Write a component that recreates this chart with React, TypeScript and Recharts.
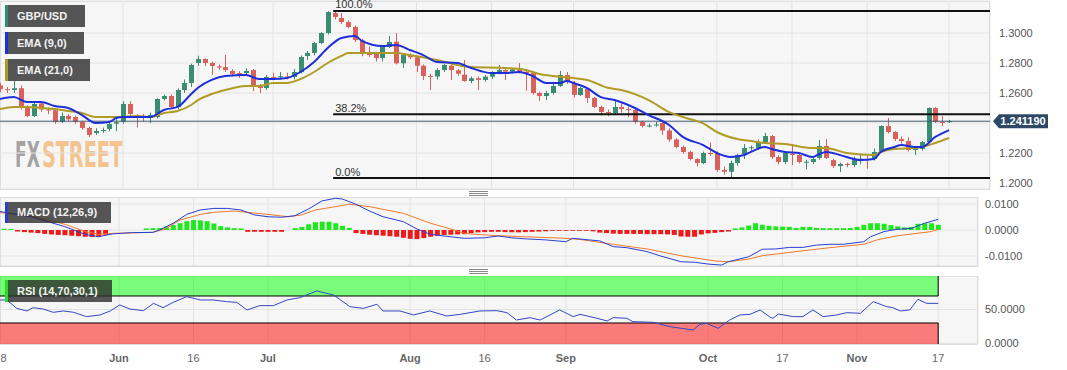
import React from 'react';
import { ComposedChart, Bar, Line, XAxis, YAxis, CartesianGrid, ReferenceLine, ReferenceArea, Cell } from 'recharts';

const FONT = '"Liberation Sans", Arial, sans-serif';

// ---- GBP/USD daily candles (trading-day index 0 = May 8 ... 139 = Nov 17) ----
const opens = [
  1.2650, 1.2625, 1.2620, 1.2632, 1.2505, 1.2446, 1.2530, 1.2490, 1.2485, 1.2407,
  1.2447, 1.2440, 1.2407, 1.2367, 1.2333, 1.2347, 1.2360, 1.2395, 1.2407, 1.2527,
  1.2450, 1.2440, 1.2433, 1.2440, 1.2560, 1.2580, 1.2507, 1.2620, 1.2667, 1.2800,
  1.2827, 1.2800, 1.2778, 1.2773, 1.2747, 1.2733, 1.2733, 1.2753, 1.2647, 1.2633,
  1.2707, 1.2705, 1.2710, 1.2707, 1.2740, 1.2847, 1.2867, 1.2933, 1.3000, 1.3133,
  1.3100, 1.3073, 1.3040, 1.2950, 1.2867, 1.2867, 1.2833, 1.2907, 1.2942, 1.2798,
  1.2853, 1.2838, 1.2782, 1.2713, 1.2710, 1.2753, 1.2782, 1.2751, 1.2722, 1.2680,
  1.2698, 1.2687, 1.2709, 1.2733, 1.2753, 1.2742, 1.2758, 1.2742, 1.2733, 1.2600,
  1.2580, 1.2600, 1.2647, 1.2720, 1.2667, 1.2587, 1.2627, 1.2567, 1.2507, 1.2473,
  1.2467, 1.2507, 1.2493, 1.2487, 1.2407, 1.2380, 1.2385, 1.2400, 1.2350, 1.2290,
  1.2240, 1.2207, 1.2160, 1.2133, 1.2200, 1.2200, 1.2087, 1.2075, 1.2133, 1.2193,
  1.2235, 1.2233, 1.2273, 1.2313, 1.2173, 1.2140, 1.2195, 1.2187, 1.2140, 1.2140,
  1.2167, 1.2247, 1.2153, 1.2113, 1.2127, 1.2120, 1.2160, 1.2160, 1.2160, 1.2207,
  1.2380, 1.2340, 1.2293, 1.2280, 1.2220, 1.2227, 1.2273, 1.2500, 1.2407, 1.2407,
];
const highs = [
  1.2668, 1.2640, 1.2680, 1.2650, 1.2520, 1.2545, 1.2545, 1.2505, 1.2495, 1.2470,
  1.2460, 1.2450, 1.2415, 1.2375, 1.2365, 1.2370, 1.2415, 1.2425, 1.2545, 1.2545,
  1.2460, 1.2460, 1.2470, 1.2565, 1.2590, 1.2590, 1.2630, 1.2690, 1.2795, 1.2848,
  1.2830, 1.2810, 1.2790, 1.2853, 1.2760, 1.2745, 1.2765, 1.2760, 1.2660, 1.2720,
  1.2735, 1.2740, 1.2735, 1.2760, 1.2850, 1.2880, 1.2940, 1.3005, 1.3145, 1.3147,
  1.3133, 1.3085, 1.3050, 1.2960, 1.2910, 1.2875, 1.2920, 1.2980, 1.3000, 1.2865,
  1.2865, 1.2850, 1.2790, 1.2728, 1.2765, 1.2795, 1.2790, 1.2760, 1.2820, 1.2710,
  1.2710, 1.2720, 1.2745, 1.2787, 1.2760, 1.2765, 1.2800, 1.2750, 1.2740, 1.2610,
  1.2615, 1.2660, 1.2747, 1.2740, 1.2680, 1.2640, 1.2635, 1.2575, 1.2515, 1.2490,
  1.2547, 1.2530, 1.2510, 1.2495, 1.2415, 1.2395, 1.2410, 1.2410, 1.2365, 1.2300,
  1.2250, 1.2215, 1.2165, 1.2210, 1.2270, 1.2210, 1.2110, 1.2150, 1.2195, 1.2260,
  1.2250, 1.2290, 1.2335, 1.2320, 1.2185, 1.2210, 1.2260, 1.2200, 1.2155, 1.2180,
  1.2287, 1.2293, 1.2160, 1.2135, 1.2135, 1.2175, 1.2195, 1.2180, 1.2230, 1.2385,
  1.2433, 1.2345, 1.2310, 1.2305, 1.2240, 1.2280, 1.2505, 1.2505, 1.2447, 1.2420,
];
const lows = [
  1.2606, 1.2600, 1.2600, 1.2490, 1.2440, 1.2440, 1.2475, 1.2460, 1.2395, 1.2400,
  1.2410, 1.2395, 1.2355, 1.2307, 1.2320, 1.2335, 1.2345, 1.2345, 1.2395, 1.2440,
  1.2370, 1.2410, 1.2400, 1.2430, 1.2550, 1.2495, 1.2490, 1.2600, 1.2640, 1.2780,
  1.2780, 1.2720, 1.2755, 1.2740, 1.2710, 1.2700, 1.2720, 1.2613, 1.2600, 1.2620,
  1.2685, 1.2690, 1.2690, 1.2690, 1.2730, 1.2820, 1.2850, 1.2925, 1.2990, 1.3090,
  1.3060, 1.3030, 1.2940, 1.2845, 1.2840, 1.2810, 1.2810, 1.2900, 1.2790, 1.2767,
  1.2825, 1.2740, 1.2687, 1.2620, 1.2690, 1.2740, 1.2687, 1.2715, 1.2675, 1.2665,
  1.2620, 1.2675, 1.2695, 1.2725, 1.2687, 1.2730, 1.2730, 1.2615, 1.2590, 1.2547,
  1.2553, 1.2590, 1.2640, 1.2660, 1.2570, 1.2580, 1.2533, 1.2500, 1.2450, 1.2445,
  1.2455, 1.2470, 1.2440, 1.2395, 1.2370, 1.2370, 1.2375, 1.2320, 1.2275, 1.2230,
  1.2195, 1.2150, 1.2110, 1.2125, 1.2180, 1.2075, 1.2055, 1.2037, 1.2115, 1.2160,
  1.2210, 1.2220, 1.2265, 1.2160, 1.2123, 1.2125, 1.2120, 1.2130, 1.2090, 1.2125,
  1.2155, 1.2160, 1.2100, 1.2073, 1.2105, 1.2105, 1.2125, 1.2095, 1.2150, 1.2200,
  1.2330, 1.2280, 1.2263, 1.2210, 1.2187, 1.2215, 1.2267, 1.2400, 1.2380, 1.2400,
];
const closes = [
  1.2625, 1.2620, 1.2632, 1.2505, 1.2446, 1.2527, 1.2490, 1.2485, 1.2407, 1.2447,
  1.2425, 1.2407, 1.2367, 1.2320, 1.2347, 1.2353, 1.2393, 1.2405, 1.2527, 1.2460,
  1.2440, 1.2437, 1.2453, 1.2560, 1.2580, 1.2507, 1.2620, 1.2667, 1.2787, 1.2827,
  1.2800, 1.2780, 1.2770, 1.2753, 1.2727, 1.2720, 1.2747, 1.2647, 1.2633, 1.2707,
  1.2700, 1.2712, 1.2707, 1.2740, 1.2840, 1.2867, 1.2933, 1.3000, 1.3140, 1.3107,
  1.3073, 1.3040, 1.2953, 1.2870, 1.2853, 1.2833, 1.2907, 1.2940, 1.2798, 1.2853,
  1.2838, 1.2782, 1.2713, 1.2710, 1.2753, 1.2787, 1.2753, 1.2729, 1.2680, 1.2698,
  1.2687, 1.2709, 1.2731, 1.2753, 1.2742, 1.2758, 1.2742, 1.2733, 1.2600, 1.2580,
  1.2600, 1.2647, 1.2720, 1.2673, 1.2587, 1.2633, 1.2567, 1.2507, 1.2473, 1.2467,
  1.2507, 1.2493, 1.2490, 1.2407, 1.2380, 1.2383, 1.2390, 1.2350, 1.2290, 1.2240,
  1.2207, 1.2160, 1.2133, 1.2200, 1.2193, 1.2087, 1.2075, 1.2133, 1.2187, 1.2233,
  1.2238, 1.2273, 1.2313, 1.2173, 1.2140, 1.2200, 1.2187, 1.2140, 1.2142, 1.2160,
  1.2247, 1.2167, 1.2113, 1.2127, 1.2120, 1.2160, 1.2162, 1.2158, 1.2207, 1.2380,
  1.2340, 1.2293, 1.2280, 1.2220, 1.2233, 1.2273, 1.2500, 1.2407, 1.2400, 1.2412,
];

// ---- EMA lines ----
const ema9Days = [0, 2, 4, 6, 8, 10, 12, 14, 16, 17, 18, 20, 22, 24, 26, 28, 29, 31, 33, 36, 38, 40, 42, 44, 46, 48, 50, 52, 53, 56, 58, 60, 62, 64, 67, 69, 72, 74, 76, 78, 80, 82, 83, 84, 86, 88, 90, 93, 95, 98, 100, 103, 105, 107, 109, 110, 112, 113, 115, 117, 119, 120, 121, 124, 126, 128, 129, 131, 132, 134, 135, 137, 139];
const ema9Vals = [1.2560, 1.2573, 1.2540, 1.2540, 1.2513, 1.2500, 1.2453, 1.2400, 1.2407, 1.2433, 1.2440, 1.2440, 1.2440, 1.2487, 1.2507, 1.2593, 1.2635, 1.2687, 1.2713, 1.2720, 1.2693, 1.2693, 1.2700, 1.2740, 1.2807, 1.2900, 1.2967, 1.2980, 1.2947, 1.2913, 1.2920, 1.2887, 1.2853, 1.2807, 1.2800, 1.2767, 1.2733, 1.2733, 1.2740, 1.2713, 1.2667, 1.2667, 1.2680, 1.2667, 1.2632, 1.2573, 1.2553, 1.2500, 1.2453, 1.2387, 1.2307, 1.2253, 1.2200, 1.2173, 1.2187, 1.2207, 1.2240, 1.2227, 1.2207, 1.2200, 1.2173, 1.2193, 1.2207, 1.2173, 1.2153, 1.2160, 1.2207, 1.2240, 1.2253, 1.2240, 1.2240, 1.2307, 1.2353];
const ema21Days = [0, 2, 4, 6, 8, 10, 12, 14, 17, 20, 22, 24, 26, 28, 29, 31, 33, 36, 38, 40, 42, 44, 46, 48, 50, 51, 53, 56, 58, 60, 64, 69, 74, 77, 79, 81, 84, 86, 89, 91, 95, 98, 101, 103, 105, 108, 110, 112, 115, 119, 121, 124, 128, 129, 131, 134, 135, 137, 139];
const ema21Vals = [1.2493, 1.2507, 1.2507, 1.2500, 1.2493, 1.2480, 1.2467, 1.2440, 1.2440, 1.2447, 1.2440, 1.2467, 1.2480, 1.2520, 1.2553, 1.2593, 1.2620, 1.2647, 1.2647, 1.2667, 1.2667, 1.2693, 1.2740, 1.2800, 1.2847, 1.2867, 1.2867, 1.2867, 1.2867, 1.2853, 1.2820, 1.2773, 1.2767, 1.2753, 1.2727, 1.2713, 1.2700, 1.2687, 1.2635, 1.2620, 1.2553, 1.2473, 1.2427, 1.2397, 1.2340, 1.2293, 1.2280, 1.2267, 1.2260, 1.2233, 1.2233, 1.2200, 1.2187, 1.2207, 1.2227, 1.2233, 1.2240, 1.2267, 1.2300];

// ---- MACD (12,26,9) ----
const macdDays = [0, 5, 10, 13, 15, 17, 20, 23, 24, 26, 28, 30, 32, 34, 36, 38, 40, 42, 44, 46, 48, 50, 51, 53, 55, 57, 60, 62, 64, 67, 69, 72, 74, 76, 78, 81, 84, 85, 89, 91, 93, 96, 98, 101, 103, 105, 107, 108, 111, 113, 115, 117, 119, 121, 123, 125, 128, 129, 131, 133, 135, 137, 139];
const macdVals = [0.0073, 0.0051, 0.0013, -0.0017, -0.0026, -0.0015, -0.0010, -0.0009, 0.0000, 0.0026, 0.0060, 0.0077, 0.0083, 0.0083, 0.0077, 0.0058, 0.0051, 0.0049, 0.0055, 0.0081, 0.0112, 0.0122, 0.0119, 0.0099, 0.0073, 0.0051, 0.0032, 0.0004, -0.0017, -0.0026, -0.0032, -0.0030, -0.0023, -0.0030, -0.0034, -0.0038, -0.0045, -0.0032, -0.0042, -0.0064, -0.0068, -0.0083, -0.0100, -0.0122, -0.0124, -0.0131, -0.0135, -0.0122, -0.0103, -0.0074, -0.0073, -0.0067, -0.0067, -0.0058, -0.0055, -0.0055, -0.0045, -0.0026, -0.0006, 0.0003, 0.0006, 0.0026, 0.0041];
const signalDays = [0, 5, 10, 13, 15, 17, 23, 25, 27, 30, 32, 35, 37, 40, 43, 45, 47, 50, 52, 55, 60, 64, 67, 69, 72, 74, 78, 84, 86, 91, 96, 101, 106, 108, 111, 113, 118, 123, 128, 130, 133, 138, 139];
const signalVals = [0.0068, 0.0055, 0.0022, -0.0006, -0.0017, -0.0013, -0.0009, 0.0006, 0.0038, 0.0060, 0.0068, 0.0073, 0.0068, 0.0060, 0.0051, 0.0058, 0.0077, 0.0090, 0.0099, 0.0090, 0.0064, 0.0026, 0.0004, -0.0013, -0.0019, -0.0022, -0.0026, -0.0032, -0.0036, -0.0055, -0.0073, -0.0099, -0.0119, -0.0122, -0.0112, -0.0099, -0.0083, -0.0068, -0.0055, -0.0038, -0.0022, -0.0006, 0.0003];
const histVals = [
  0.0005, 0.0005, 0.0004, -0.0006, -0.0008, -0.0010, -0.0012, -0.0015, -0.0017, -0.0019,
  -0.0020, -0.0022, -0.0024, -0.0026, -0.0027, -0.0025, -0.0018, 0, 0, 0,
  0, 0, 0.0006, 0.0007, 0.0008, 0.0013, 0.0019, 0.0026, 0.0034, 0.0038,
  0.0037, 0.0034, 0.0025, 0.0015, 0.0010, 0.0007, 0.0006, -0.0007, -0.0007, -0.0007,
  -0.0007, -0.0007, -0.0007, 0, 0.0007, 0.0012, 0.0022, 0.0030, 0.0032, 0.0032,
  0.0026, 0.0016, 0.0008, -0.0012, -0.0015, -0.0018, -0.0020, -0.0022, -0.0024, -0.0026,
  -0.0030, -0.0034, -0.0035, -0.0031, -0.0026, -0.0022, -0.0019, -0.0018, -0.0017, -0.0016,
  -0.0012, -0.0009, -0.0008, -0.0007, -0.0007, -0.0008, -0.0009, -0.0009, -0.0008, -0.0007,
  -0.0006, -0.0005, -0.0003, -0.0003, -0.0003, -0.0003, -0.0003, -0.0003, -0.0005, -0.0010,
  -0.0012, -0.0014, -0.0015, -0.0015, -0.0015, -0.0015, -0.0016, -0.0016, -0.0016, -0.0017,
  -0.0019, -0.0025, -0.0026, -0.0026, -0.0017, -0.0013, -0.0011, -0.0008, -0.0006, 0.0006,
  0.0010, 0.0017, 0.0026, 0.0020, 0.0016, 0.0014, 0.0013, 0.0012, 0.0008, 0.0012,
  0.0012, 0.0008, 0.0007, 0.0007, 0.0007, 0.0007, 0.0008, 0.0012, 0.0020, 0.0026,
  0.0026, 0.0024, 0.0019, 0.0014, 0.0010, 0.0012, 0.0024, 0.0026, 0.0026, 0.0020,
];

// ---- RSI (14) ----
const rsiDays = [0.42, 1.4, 2.9, 4.4, 5.3, 6.8, 8.3, 9.8, 11.3, 13.2, 15.2, 16.7, 18.1, 19.6, 21.6, 23.1, 24.5, 26, 28, 30, 31.9, 33.9, 35.4, 36.9, 38.8, 40.8, 42.8, 44.7, 47.2, 49.7, 52.1, 54.1, 56.1, 57, 59.5, 61.5, 63.9, 66.4, 68.4, 71.3, 73.8, 75.3, 76.7, 78.7, 80.2, 83.1, 85.1, 86.1, 88.6, 90.1, 91, 93, 93.9, 96.9, 99.4, 102.8, 103.8, 104.8, 106.5, 108.2, 109.7, 111.2, 112.7, 114.2, 114.6, 115.4, 117.6, 119, 120.5, 122, 124, 125.5, 127.5, 129.4, 131.4, 132.3, 133.4, 134.8, 136, 137.3, 139];
const rsiVals = [64.1, 64.1, 51.7, 47.8, 52.7, 50.7, 45.8, 47.8, 45.8, 39.4, 41.9, 47.8, 56.7, 50.7, 48.3, 59.1, 52.7, 60.6, 69.0, 64.1, 64.1, 61.6, 60.6, 49.3, 55.7, 55.7, 64.1, 67.5, 77.4, 71.5, 54.2, 51.7, 57.7, 47.8, 47.8, 41.9, 47.8, 40.4, 42.8, 47.8, 48.3, 45.3, 34.4, 37.9, 34.4, 49.3, 39.4, 42.8, 37.0, 33.0, 37.9, 37.0, 32.0, 31.0, 24.5, 19.6, 28.0, 29.5, 22.1, 34.4, 41.9, 42.8, 49.3, 38.4, 37.0, 43.3, 39.4, 39.4, 49.3, 39.4, 41.9, 45.3, 44.3, 61.6, 54.2, 52.7, 47.8, 49.3, 65.1, 59.1, 59.1];

// ---- Axes / annotations ----
const priceTicks = [1.2, 1.22, 1.24, 1.26, 1.28, 1.3];
const macdTicks = [-0.01, 0, 0.01];
const rsiTicks = [0, 50];
const gridDays = [18, 29, 40, 61, 72, 84, 105, 116, 127, 139];
const dateTickDays = [0, 18, 29, 40, 61, 72, 84, 105, 116, 127, 139];
const dateTickLabels = ['8', 'Jun', '16', 'Jul', 'Aug', '16', 'Sep', 'Oct', '17', 'Nov', '17'];
const fibLabels = ['100.0%', '38.2%', '0.0%'];
const fibValues = [1.3147, 1.2459, 1.2033];
const fibStartDay = 48.8;
const lastPrice = 1.24119;
const hiddenPriceTick = 1.24; // covered by the last-price tag in the reference

const GREEN = '#3a8c72';
const RED = '#d8625b';

const candles = opens.map((o, i) => ({ d: i, range: [lows[i], highs[i]], o, c: closes[i] }));
const ema9 = ema9Days.map((d, i) => ({ d, v: ema9Vals[i] }));
const ema21 = ema21Days.map((d, i) => ({ d, v: ema21Vals[i] }));
const macd = macdDays.map((d, i) => ({ d, v: macdVals[i] }));
const signal = signalDays.map((d, i) => ({ d, v: signalVals[i] }));
const hist = histVals.map((h, i) => ({ d: i, h }));
const rsi = rsiDays.map((d, i) => ({ d, v: rsiVals[i] }));

const Candle = (props: any) => {
  const { x, y, width, height, payload } = props;
  if (x == null || y == null || !payload) return null;
  const [lo, hi] = payload.range;
  const top = Math.min(y, y + height);
  const h = Math.abs(height);
  const yOf = (v: number) => top + ((hi - v) / (hi - lo)) * h;
  const up = payload.c >= payload.o;
  const color = up ? GREEN : RED;
  const bt = yOf(Math.max(payload.o, payload.c));
  const bb = yOf(Math.min(payload.o, payload.c));
  const cx = Math.round(x + width / 2) + 0.5;
  return (
    <g>
      <line x1={cx} x2={cx} y1={top} y2={top + h} stroke={color} strokeWidth={1} />
      <rect x={cx - 2.5} y={bt} width={5} height={Math.max(1, bb - bt)} fill={color} />
    </g>
  );
};

const FibLabel = (props: any) => {
  const vb = props.viewBox || {};
  return (
    <text x={vb.x + 2} y={vb.y - 2.5} fontSize={11} fill="#333" fontFamily={FONT}>{props.text}</text>
  );
};

const PriceTag = (props: any) => {
  const vb = props.viewBox || {};
  const x0 = vb.x + vb.width + 3;
  const y0 = vb.y;
  return (
    <g>
      <path d={`M${x0} ${y0} L${x0 + 6} ${y0 - 7} L${x0 + 55} ${y0 - 7} L${x0 + 55} ${y0 + 7} L${x0 + 6} ${y0 + 7} Z`} fill="#2e4966" />
      <text x={x0 + 30} y={y0 + 4} textAnchor="middle" fill="#fff" fontSize={11} fontWeight={700} fontFamily={FONT}>{lastPrice.toFixed(6)}</text>
    </g>
  );
};

const DateTick = (props: any) => {
  const { x, y, payload } = props;
  const idx = dateTickDays.indexOf(payload.value);
  const label = idx >= 0 ? dateTickLabels[idx] : '';
  const isMonth = isNaN(Number(label));
  return (
    <text x={Math.max(x, 3.5)} y={y} dy={18} textAnchor="middle" fontSize={11} fontWeight={isMonth ? 700 : 400} fill="#666" fontFamily={FONT}>{label}</text>
  );
};

const LegendBox = ({ left, top, width, height, color, label }: any) => (
  <div style={{
    position: 'absolute', left, top, width, height, boxSizing: 'border-box',
    background: 'rgba(45,45,45,0.8)', borderLeft: `3px solid ${color}`,
    color: '#f2f2f2', fontSize: 11, fontWeight: 700, fontFamily: FONT,
    lineHeight: `${height}px`, paddingLeft: 9, whiteSpace: 'nowrap',
  }}>{label}</div>
);

const Handle = ({ top }: any) => (
  <div style={{ position: 'absolute', left: 469, top, width: 19, height: 5 }}>
    <div style={{ position: 'absolute', left: 0, top: 0, width: 19, height: 1, background: '#8a8a8a' }} />
    <div style={{ position: 'absolute', left: 0, top: 2, width: 19, height: 1, background: '#8a8a8a' }} />
    <div style={{ position: 'absolute', left: 0, top: 4, width: 19, height: 1, background: '#8a8a8a' }} />
  </div>
);

const yTick = { fontSize: 11, fill: '#555', fontFamily: FONT };
const WM_FONT = '"Liberation Sans Narrow", "DejaVu Sans Condensed", sans-serif';

export default function App() {
  return (
    <div style={{ position: 'fixed', left: 0, top: 0, width: 1067, height: 370, background: '#fff', overflow: 'hidden', fontFamily: FONT }}>
      {/* panel backgrounds */}
      <div style={{ position: 'absolute', left: 0, top: 1, width: 990, height: 189, background: '#f6f6f6', border: '1px solid #d5d8df', boxSizing: 'border-box' }} />
      <div style={{ position: 'absolute', left: 0, top: 197, width: 978, height: 70, background: '#f6f6f6', border: '1px solid #d5d8df', boxSizing: 'border-box' }} />
      <div style={{ position: 'absolute', left: 0, top: 276, width: 978, height: 69, background: '#f6f6f6', border: '1px solid #d5d8df', boxSizing: 'border-box' }} />

      {/* watermark */}
      <svg style={{ position: 'absolute', left: 0, top: 0 }} width={200} height={180}>
        <g transform="translate(15,167) scale(0.68,1)">
          <text x={0} y={0} fontSize={36} fontWeight={700} fontFamily={WM_FONT} textLength={36.5} lengthAdjust="spacingAndGlyphs" fill="#a3a3a3">FX</text>
          <text x={39.7} y={0} fontSize={36} fontWeight={700} fontFamily={WM_FONT} textLength={119} lengthAdjust="spacingAndGlyphs" fill="#f4c38f">STREET</text>
        </g>
      </svg>

      {/* main price panel */}
      <div style={{ position: 'absolute', left: 0, top: 0 }}>
        <ComposedChart width={1067} height={190} data={candles} margin={{ top: 1, right: 0, bottom: 1, left: 0 }}>
          <CartesianGrid stroke="#e3e3e3" />
          <XAxis dataKey="d" type="number" domain={[0, 145]} ticks={gridDays} hide allowDataOverflow />
          <YAxis orientation="right" domain={[1.196, 1.32133]} ticks={priceTicks} width={77} allowDataOverflow
            axisLine={false} tickLine={false} tickSize={0} tickMargin={9} tick={yTick}
            tickFormatter={(v: number) => (Math.abs(v - hiddenPriceTick) < 1e-9 ? '' : v.toFixed(4))} />
          <ReferenceLine y={lastPrice} stroke="#3d5874" strokeWidth={1} label={<PriceTag />} />
          {fibValues.map((v, i) => (
            <ReferenceLine key={fibLabels[i]} segment={[{ x: fibStartDay, y: v }, { x: 145, y: v }]} stroke="#111" strokeWidth={2}
              label={<FibLabel text={fibLabels[i]} />} />
          ))}
          <Bar dataKey="range" barSize={5} shape={Candle} isAnimationActive={false} />
          <Line data={ema21} dataKey="v" type="monotone" stroke="#b09c24" strokeWidth={2} dot={false} isAnimationActive={false} />
          <Line data={ema9} dataKey="v" type="monotone" stroke="#1f2fd8" strokeWidth={2} dot={false} isAnimationActive={false} />
        </ComposedChart>
      </div>

      {/* MACD panel */}
      <div style={{ position: 'absolute', left: 0, top: 197 }}>
        <ComposedChart width={1067} height={69} data={hist} margin={{ top: 0, right: 0, bottom: 0, left: 0 }}>
          <CartesianGrid stroke="#e3e3e3" />
          <XAxis dataKey="d" type="number" domain={[0.42, 144.88]} ticks={gridDays} hide allowDataOverflow />
          <YAxis orientation="right" domain={[-0.013846, 0.012692]} ticks={macdTicks} width={89} allowDataOverflow
            axisLine={false} tickLine={false} tickSize={0} tickMargin={7} tick={yTick} tickFormatter={(v: number) => v.toFixed(4)} />
          <Bar dataKey="h" barSize={5} isAnimationActive={false}>
            {hist.map((e) => <Cell key={e.d} fill={e.h >= 0 ? '#1ee81e' : '#ec1a1a'} />)}
          </Bar>
          <Line data={signal} dataKey="v" type="linear" stroke="#f07a2a" strokeWidth={1} dot={false} isAnimationActive={false} />
          <Line data={macd} dataKey="v" type="linear" stroke="#2b3fd0" strokeWidth={1} dot={false} isAnimationActive={false} />
        </ComposedChart>
      </div>

      {/* RSI panel */}
      <div style={{ position: 'absolute', left: 0, top: 276 }}>
        <ComposedChart width={1067} height={92} margin={{ top: 0, right: 0, bottom: 0, left: 0 }}>
          <CartesianGrid stroke="#e3e3e3" />
          <XAxis dataKey="d" type="number" domain={[0.42, 144.88]} ticks={dateTickDays} interval={0} height={24} allowDataOverflow
            axisLine={false} tickLine={false} tickSize={0} tickMargin={0} tick={<DateTick />} />
          <YAxis orientation="right" domain={[-1.1, 99.6]} ticks={rsiTicks} width={89} allowDataOverflow
            axisLine={false} tickLine={false} tickSize={0} tickMargin={7} tick={yTick} tickFormatter={(v: number) => v.toFixed(4)} />
          <ReferenceArea x1={-5} x2={139} y1={70} y2={130} ifOverflow="hidden" fill="#00ff00" fillOpacity={0.5} stroke="#000" strokeWidth={1} />
          <ReferenceArea x1={-5} x2={139} y1={-30} y2={30} ifOverflow="hidden" fill="#ff0000" fillOpacity={0.5} stroke="#000" strokeWidth={1} />
          <Line data={rsi} dataKey="v" type="linear" stroke="#3447c4" strokeWidth={1} dot={false} isAnimationActive={false} />
        </ComposedChart>
      </div>

      <Handle top={191} />
      <Handle top={269} />

      {/* legend boxes */}
      <LegendBox left={5} top={5} width={80} height={22} color="#2f8f75" label="GBP/USD" />
      <LegendBox left={5} top={32} width={79} height={22} color="#1b2fe0" label="EMA (9,0)" />
      <LegendBox left={5} top={59} width={85} height={22} color="#a8982a" label="EMA (21,0)" />
      <LegendBox left={5} top={202} width={106} height={21} color="#2a3fd0" label="MACD (12,26,9)" />
      <LegendBox left={5} top={280} width={107} height={22} color="#22e022" label="RSI (14,70,30,1)" />
    </div>
  );
}
